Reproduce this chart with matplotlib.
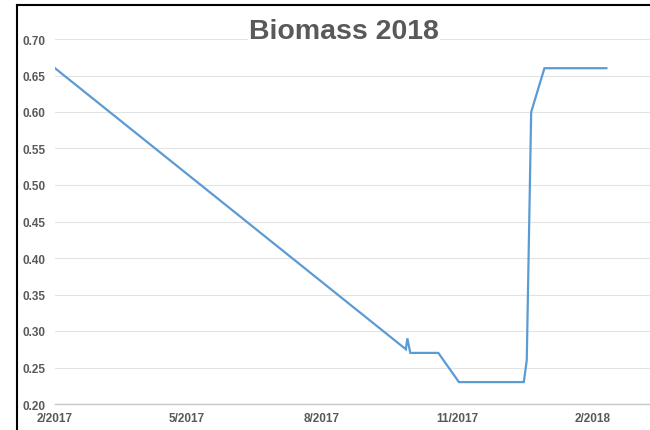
import matplotlib
matplotlib.use("Agg")
import matplotlib.pyplot as plt
from matplotlib.lines import Line2D
import datetime as dt

# Datenpunkte
dates = ["2017-02-01", "2017-09-27", "2017-09-28", "2017-09-30", "2017-10-19",
         "2017-11-02", "2017-12-16", "2017-12-18", "2017-12-21", "2017-12-30",
         "2018-02-10"]
biomass = [0.66, 0.275, 0.29, 0.27, 0.27, 0.23, 0.23, 0.26, 0.60, 0.66, 0.66]
tick_dates = ["2017-02-01", "2017-05-01", "2017-08-01", "2017-11-01", "2018-02-01"]
tick_labels = ["2/2017", "5/2017", "8/2017", "11/2017", "2/2018"]
y_ticks = [0.20, 0.25, 0.30, 0.35, 0.40, 0.45, 0.50, 0.55, 0.60, 0.65, 0.70]

x = [dt.datetime.strptime(d, "%Y-%m-%d") for d in dates]
xt = [dt.datetime.strptime(d, "%Y-%m-%d") for d in tick_dates]

plt.rcParams['font.family'] = ['Liberation Sans Narrow', 'Liberation Sans', 'DejaVu Sans']

W, H = 650, 431
fig = plt.figure(figsize=(W / 100, H / 100), dpi=100)
ax = fig.add_axes([55 / W, 26 / H, 595 / W, 365 / H])

ax.plot(x, biomass, color='#5b9bd5', lw=1.6, solid_joinstyle='miter')

ax.set_xlim(xt[0], xt[0] + dt.timedelta(days=403.6))
ax.set_ylim(0.2, 0.7)
ax.set_xticks(xt)
ax.set_xticklabels(tick_labels)
ax.set_yticks(y_ticks)
ax.set_yticklabels(["%.2f" % v for v in y_ticks])

ax.grid(axis='y', color='#e3e3e3', lw=0.8)
ax.set_axisbelow(True)
for s in ['top', 'right', 'left']:
    ax.spines[s].set_visible(False)
ax.spines['bottom'].set_color('#c8c8c8')
ax.spines['bottom'].set_linewidth(1.0)
ax.tick_params(axis='both', length=0, labelsize=8.5, colors='#595959')
ax.tick_params(axis='x', pad=6)
ax.tick_params(axis='y', pad=7)
for lab in ax.get_xticklabels() + ax.get_yticklabels():
    lab.set_fontweight('bold')

fig.text(344 / W, 1 - 32 / H, "Biomass 2018", ha='center', va='center',
         fontsize=20.5, fontweight='bold', color='#595959', family=['Liberation Sans', 'DejaVu Sans'],
         bbox=dict(facecolor='white', edgecolor='none', pad=1))

# Rahmen des Diagrammbereichs (oben und links)
fig.add_artist(Line2D([17 / W, 1.01], [1 - 6 / H, 1 - 6 / H], color='black', lw=1.5))
fig.add_artist(Line2D([17 / W, 17 / W], [-0.01, 1 - 6 / H], color='black', lw=1.5))

fig.savefig("out.png", dpi=100)
